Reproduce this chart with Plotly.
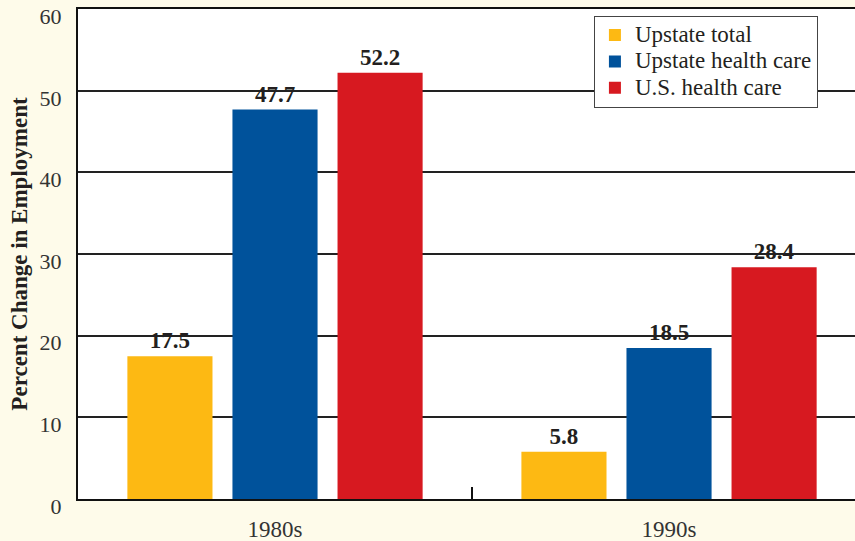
import plotly.graph_objects as go

categories = ["1980s", "1990s"]
series_names = ["Upstate total", "Upstate health care", "U.S. health care"]
upstate_total = [17.5, 5.8]
upstate_health = [47.7, 18.5]
us_health = [52.2, 28.4]
colors = ["#FDB913", "#00529B", "#D71920"]
y_ticks = [0, 10, 20, 30, 40, 50, 60]

serif = "Liberation Serif, Times New Roman, serif"
fig = go.Figure()
for name, vals, c in zip(series_names, [upstate_total, upstate_health, us_health], colors):
    fig.add_trace(go.Bar(
        x=categories, y=vals,
        name=f'<span style="font-size:23px">{name}</span>',
        marker_color=c, marker_line_width=0,
        text=[f"{v:.1f}" for v in vals], textposition="outside",
        textfont=dict(family=serif, size=23, color="#231f20"),
        texttemplate="<b>%{text}</b>", cliponaxis=False,
    ))

fig.update_layout(
    width=855, height=541,
    margin=dict(l=78, r=0, t=9, b=42, autoexpand=False),
    paper_bgcolor="#FEFBEA", plot_bgcolor="#FFFFFF",
    barmode="group", bargap=0.2, bargroupgap=0.19,
    font=dict(family=serif, color="#333333"),
    legend=dict(
        x=0.664, y=0.986, xanchor="left", yanchor="top",
        bgcolor="#FFFFFF", bordercolor="#444444", borderwidth=1,
        font=dict(family=serif, size=18, color="#231f20"),
        itemsizing="constant", tracegroupgap=0, itemwidth=30,
    ),
    showlegend=True,
)
fig.update_xaxes(
    range=[-0.5, 1.472], showgrid=False, showline=True, mirror=True,
    linecolor="#111111", linewidth=2,
    ticks="inside", tickson="boundaries", ticklen=12, tickcolor="#111111", tickwidth=1.5,
    ticklabelstandoff=8,
    tickfont=dict(family=serif, size=23, color="#333333"), fixedrange=True,
)
fig.update_yaxes(
    range=[0, 60.02], tickvals=y_ticks, showgrid=True, gridcolor="#222222", gridwidth=1.5,
    showline=True, linecolor="#111111", linewidth=2, zeroline=False,
    ticks="", ticklabelstandoff=10, ticklabelshift=7, ticklabeloverflow="allow",
    tickfont=dict(family=serif, size=22, color="#333333"),
    title=dict(text="<b>Percent Change in Employment</b>", font=dict(family=serif, size=23, color="#231f20"), standoff=6),
)
fig.write_html("out.html", config={"displayModeBar": False})
with open("out.html", encoding="utf-8") as f:
    html = f.read()
html = html.replace("<head>", "<head><style>html,body{margin:0;padding:0;}</style>", 1)
with open("out.html", "w", encoding="utf-8") as f:
    f.write(html)
